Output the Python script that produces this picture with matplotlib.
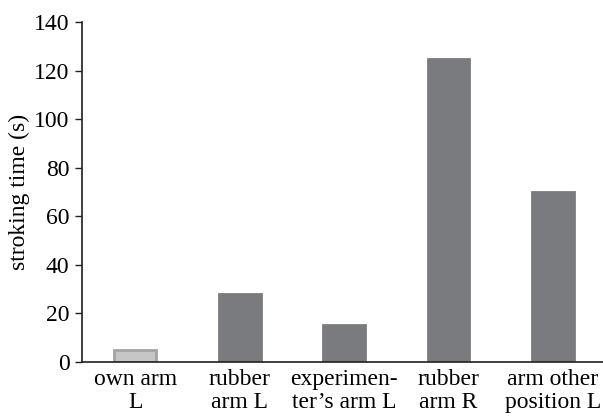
import matplotlib
matplotlib.use('Agg')
import matplotlib.pyplot as plt
import numpy as np

plt.rcParams['font.family'] = ['Liberation Serif', 'DejaVu Serif']

# data
conditions = ['own arm\nL', 'rubber\narm L', 'experimen-\nter\u2019s arm L', 'rubber\narm R', 'arm other\nposition L']
stroking_time = [5, 28, 15.3, 124.7, 70]

fill_colors = ['#c6c6c8', '#7a7b7f', '#7a7b7f', '#7a7b7f', '#7a7b7f']
edge_colors = ['#a4a4a6', '#7a7b7f', '#7a7b7f', '#7a7b7f', '#7a7b7f']

fig = plt.figure(figsize=(6.03, 4.18), dpi=100)
ax = fig.add_axes([0.136, 0.134, 0.864, 0.813])

x = np.arange(len(conditions))
ax.bar(x, stroking_time, width=0.4, color=fill_colors, edgecolor=edge_colors, linewidth=2)

ax.set_xlim(-0.51, 4.48)
ax.set_ylim(0, 140)
ax.set_yticks(np.arange(0, 141, 20))
ax.set_xticks(x)
ax.set_xticklabels(conditions, fontsize=17, linespacing=1.15)
ax.tick_params(axis='y', labelsize=17, length=5, width=1, color='#231f20', pad=4)
ax.tick_params(axis='x', length=0, pad=5)
ax.set_ylabel('stroking time (s)', fontsize=17, labelpad=3)

for s in ['top', 'right']:
    ax.spines[s].set_visible(False)
for s in ['left', 'bottom']:
    ax.spines[s].set_color('#231f20')
    ax.spines[s].set_linewidth(1.2)

fig.savefig('out.png', dpi=100)
